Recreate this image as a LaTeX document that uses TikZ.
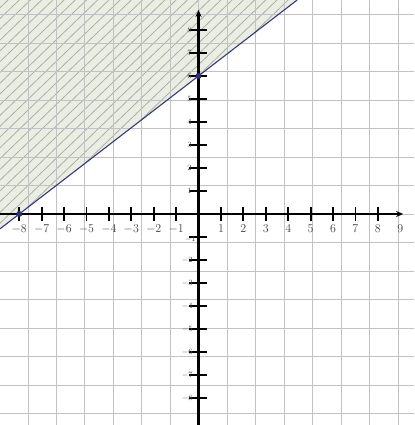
\documentclass[tikz,border=0pt]{standalone}
\usetikzlibrary{arrows.meta}
\definecolor{penblue}{RGB}{55,55,130}
\definecolor{pencil}{RGB}{170,178,160}
\definecolor{shadefill}{RGB}{234,237,228}
\begin{document}
\begin{tikzpicture}[x=22.4pt,y=23pt,
  gridline/.style={draw=black!24,line width=0.5pt},
  axisline/.style={draw=black,line width=2.2pt},
  tickmark/.style={draw=black,line width=1.8pt},
  xlab/.style={font=\fontsize{12}{12}\selectfont,inner sep=0pt,text=black!75},
  ylab/.style={font=\fontsize{8.5}{8.5}\selectfont,inner sep=0pt,anchor=east,text=black!70},
  dotnode/.style={circle,fill=penblue!80!black,inner sep=0pt,minimum size=6pt},
  boundary/.style={draw=penblue,line width=1.1pt},
  hatch/.style={draw=pencil,line width=0.8pt}]
\useasboundingbox (-8.86,-9.17) rectangle (9.62,9.30);
\fill[white] (-8.86,-9.17) rectangle (9.62,9.30);
% shaded half-plane
\begin{scope}
  \clip (-8.86,9.30) -- (-8.86,-0.645) -- (4.4,9.30) -- cycle;
  \fill[shadefill] (-8.86,-1) rectangle (5,9.3);
  \foreach \k in {-26,-25.5,...,10} {
    \draw[hatch] (\k,-1) -- (\k+11,9.3);
  }
\end{scope}
% grid
\begin{scope}
  \clip (-8.86,-9.17) rectangle (9.62,9.30);
  \draw[gridline] (-9,-10) grid (10,10);
\end{scope}
% axes
\coordinate (xa) at (-8.86,0);
\coordinate (xb) at (9.13,0);
\coordinate (ya) at (0,-9.17);
\coordinate (yb) at (0,8.87);
\draw[axisline,-{Stealth[length=7pt,width=6pt]}] (xa) -- (xb);
\draw[axisline,-{Stealth[length=7pt,width=6pt]}] (ya) -- (yb);
% ticks and labels
\foreach \i in {-8,...,-1,1,2,...,8} {
  \draw[tickmark] (\i,-0.32) -- (\i,0.32);
  \draw[tickmark] (-0.42,\i) -- (0.36,\i);
  \node[xlab] (xl\i) at (\i,-0.64) {$\i$};
}
\node[xlab] (xl9) at (9.0,-0.64) {$9$};
\foreach \i in {1,...,8} {
  \node[ylab] (yl\i) at (-0.3,\i) {$\i$};
}
\foreach \i in {-2,-3,...,-8} {
  \node[ylab] (yl\i) at (-0.25,\i) {$\i$};
}
\node[ylab] (yl-1) at (-0.12,-1.1) {$-1$};
% boundary line
\node[dotnode] (p1) at (-8,0) {};
\node[dotnode] (p2) at (0,6) {};
\coordinate (la) at (-8.86,-0.645);
\coordinate (lb) at (4.4,9.30);
\draw[boundary] (la) -- (p1.center) -- (p2.center) -- (lb);
\end{tikzpicture}
\end{document}
